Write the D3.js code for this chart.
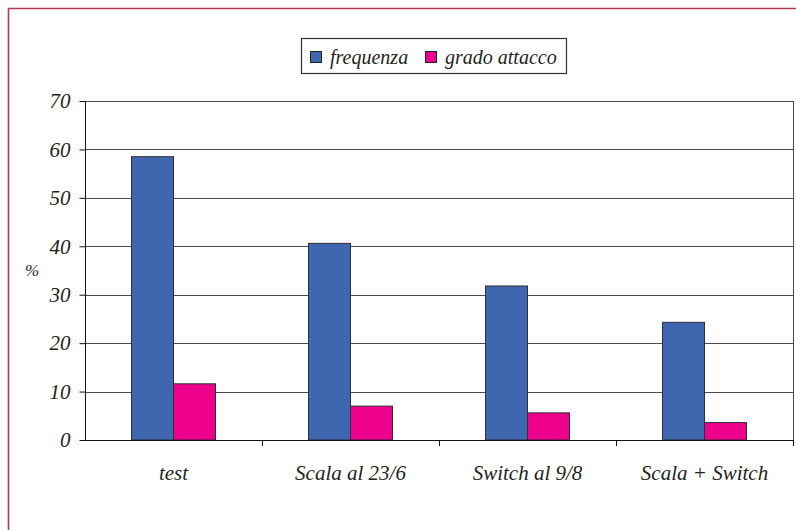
<!DOCTYPE html>
<html>
<head>
<meta charset="utf-8">
<script src="https://cdn.jsdelivr.net/npm/d3@7"></script>
</head>
<body style="margin:0">
<svg id="chart" width="796" height="530"></svg>
<script>
// Categories and series (percent)
const categories = ["test", "Scala al 23/6", "Switch al 9/8", "Scala + Switch"];
const seriesNames = ["frequenza", "grado attacco"];
const frequenza = [58.5, 40.6, 31.8, 24.3];
const gradoAttacco = [11.6, 7.0, 5.6, 3.6];
const yTicks = [0, 10, 20, 30, 40, 50, 60, 70];
const colors = ["#3f67b0", "#ec008c"];

const TEXT_FILL = "#231f20";

const svg = d3.select("#chart");
const W = 796, H = 530;
const plot = { left: 85, right: 793, top: 101, bottom: 440 };

// Italic serif labels
function styleText(sel, size) {
  return sel.style("font", `italic ${size}px "Liberation Serif", "Times New Roman", serif`)
    .style("fill", TEXT_FILL);
}

// Outer frame (top and left edges)
svg.append("path")
  .attr("d", `M8.5,${H} L8.5,8.5 L${W},8.5`)
  .attr("fill", "none")
  .attr("stroke", "#b03a4e")
  .attr("stroke-width", 1.6);

const x0 = d3.scaleBand().domain(categories).range([plot.left, plot.right]);
const x1 = d3.scaleBand().domain(seriesNames).range([0, 84]);
const y = d3.scaleLinear().domain([0, 70]).range([plot.bottom, plot.top]);

// Horizontal gridlines
svg.append("g").selectAll("line")
  .data(yTicks.filter(t => t > 0))
  .join("line")
  .attr("x1", plot.left).attr("x2", plot.right)
  .attr("y1", d => Math.round(y(d)) + 0.5).attr("y2", d => Math.round(y(d)) + 0.5)
  .attr("stroke", "#4a4a4a").attr("stroke-width", 1);

// Right edge of plot area
svg.append("line")
  .attr("x1", plot.right + 0.5).attr("x2", plot.right + 0.5)
  .attr("y1", plot.top).attr("y2", plot.bottom)
  .attr("stroke", "#4a4a4a");

// Bars
const rows = categories.map((c, i) => ({ cat: c, vals: [frequenza[i], gradoAttacco[i]] }));
const groups = svg.append("g").selectAll("g")
  .data(rows)
  .join("g")
  .attr("transform", d => `translate(${x0(d.cat) + (x0.bandwidth() - 84) / 2},0)`);
groups.selectAll("rect")
  .data(d => d.vals.map((v, k) => ({ name: seriesNames[k], v, k })))
  .join("rect")
  .attr("x", d => x1(d.name))
  .attr("y", d => y(d.v))
  .attr("width", x1.bandwidth())
  .attr("height", d => y(0) - y(d.v))
  .attr("fill", d => colors[d.k])
  .attr("stroke", "#2e2e33")
  .attr("stroke-width", 1);

// Y axis
const yAxis = d3.axisLeft(y).tickValues(yTicks).tickSize(6).tickPadding(9).tickFormat(d3.format("d"));
const gy = svg.append("g").attr("transform", `translate(${plot.left + 0.5},0)`).call(yAxis);
gy.select(".domain").attr("stroke", "#111").attr("d", `M-0,${plot.top}V${plot.bottom}`);
gy.selectAll(".tick line").attr("stroke", "#111");
styleText(gy.selectAll(".tick text"), 21);

// X axis: ticks at category boundaries
const bounds = categories.map(c => x0(c)).concat([plot.right]);
const gx = svg.append("g");
gx.append("line")
  .attr("x1", plot.left).attr("x2", plot.right)
  .attr("y1", plot.bottom + 0.5).attr("y2", plot.bottom + 0.5)
  .attr("stroke", "#111").attr("stroke-width", 1.2);
gx.selectAll("line.tk")
  .data(bounds.slice(1))
  .join("line").attr("class", "tk")
  .attr("x1", d => d + 0.5).attr("x2", d => d + 0.5)
  .attr("y1", plot.bottom).attr("y2", plot.bottom + 6)
  .attr("stroke", "#111");
styleText(gx.selectAll("text")
  .data(categories)
  .join("text")
  .attr("x", d => x0(d) + x0.bandwidth() / 2)
  .attr("y", 480)
  .attr("text-anchor", "middle")
  .text(d => d), 21);

// Y axis unit label
styleText(svg.append("text")
  .attr("x", 32).attr("y", 276)
  .attr("text-anchor", "middle")
  .text("%"), 17);

// Legend
const lg = svg.append("g");
lg.append("rect")
  .attr("x", 301.5).attr("y", 38.5).attr("width", 265).attr("height", 35)
  .attr("fill", "#fff").attr("stroke", "#333").attr("stroke-width", 1.2);
const items = [
  { name: seriesNames[0], sx: 310, tx: 330 },
  { name: seriesNames[1], sx: 425, tx: 445 }
];
items.forEach((it, k) => {
  lg.append("rect")
    .attr("x", it.sx + 0.5).attr("y", 51.5).attr("width", 11).attr("height", 11)
    .attr("fill", colors[k]).attr("stroke", "#222");
  styleText(lg.append("text")
    .attr("x", it.tx).attr("y", 64)
    .text(it.name), 20);
});
</script>
</body>
</html>
